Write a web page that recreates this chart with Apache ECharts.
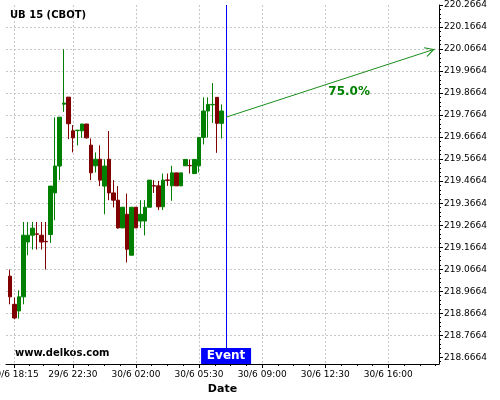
<!DOCTYPE html>
<html><head><meta charset="utf-8">
<script src="https://cdn.jsdelivr.net/npm/echarts@6/dist/echarts.min.js"></script>
<style>html,body{margin:0;padding:0;background:#fff}#c{width:500px;height:400px}</style>
</head><body><div id="c"></div>
<script>
// Candle values (index = 15-minute bar position)
const opens  = [219.035,218.907,218.877,218.941,219.190,219.221,219.227,219.221,219.193,219.224,
                219.413,219.535,219.816,219.848,219.695,219.696,219.695,219.726,219.630,219.536,
                219.566,219.444,219.566,219.413,219.380,219.254,219.316,219.130,219.348,219.285,
                219.285,219.348,219.446,219.445,219.350,219.472,219.445,219.504,219.445,219.536,
                219.538,219.501,219.536,219.665,219.785,219.813,219.847,219.729];
const closes = [218.941,218.845,218.941,219.221,219.221,219.253,219.225,219.190,219.191,219.444,
                219.535,219.757,219.821,219.727,219.663,219.698,219.726,219.663,219.504,219.566,
                219.471,219.535,219.413,219.380,219.254,219.348,219.157,219.348,219.254,219.316,
                219.348,219.471,219.444,219.350,219.471,219.470,219.504,219.445,219.504,219.565,
                219.536,219.565,219.665,219.785,219.815,219.815,219.729,219.785];
const lows   = [218.907,218.839,218.842,218.907,219.130,219.156,219.156,219.156,219.065,219.186,
                219.289,219.471,219.781,219.657,219.597,219.629,219.663,219.660,219.471,219.506,
                219.444,219.316,219.380,219.347,219.251,219.254,219.097,219.130,219.254,219.254,
                219.220,219.348,219.413,219.335,219.335,219.445,219.377,219.445,219.445,219.536,
                219.501,219.501,219.506,219.633,219.665,219.731,219.595,219.660];
const highs  = [219.065,218.938,218.971,219.281,219.281,219.281,219.281,219.281,219.281,219.444,
                219.756,219.757,220.065,219.848,219.721,219.698,219.726,219.726,219.660,219.597,
                219.629,219.566,219.694,219.471,219.444,219.348,219.410,219.348,219.348,219.380,
                219.380,219.471,219.471,219.468,219.501,219.501,219.536,219.504,219.504,219.565,
                219.565,219.565,219.665,219.847,219.847,219.912,219.847,219.815];

const xTickIdx    = [1, 14, 28, 42, 56, 70, 84];
const xTickLabels = ['29/6 18:15','29/6 22:30','30/6 02:00','30/6 05:30','30/6 09:00','30/6 12:30','30/6 16:00'];
const yTickLabels = ['218.6664','218.7664','218.8664','218.9664','219.0664','219.1664','219.2664','219.3664',
                     '219.4664','219.5664','219.6664','219.7664','219.8664','219.9664','220.0664','220.1664','220.2664'];

const eventIdx = 48;
const eventLabel = 'Event';
const forecastStart = [48, 219.757];
const forecastEnd   = [94.3, 220.066];
const forecastLabel = '75.0%';
const forecastLabelAt = [75.3, 219.874];

const X_MIN = -0.84, X_MAX = 95.25, Y_MIN = 218.636, Y_MAX = 220.2664;

const yTicks = yTickLabels.map(Number);
const yMinor = [];
for (let k = -1; k < yTicks.length; k++) {
  const base = k < 0 ? yTicks[0] - 0.1 : yTicks[k];
  for (let j = 1; j < 5; j++) yMinor.push(+(base + j * 0.02).toFixed(4));
}
const xExt = xTickIdx.concat([xTickIdx[xTickIdx.length - 1] + 14]);
const xMinor = [];
for (let i = 0; i < xExt.length - 1; i++) {
  for (let j = 1; j < 4; j++) xMinor.push(xExt[i] + (xExt[i + 1] - xExt[i]) * j / 4);
}

const FONT = 'DejaVu Sans';
const chart = echarts.init(document.getElementById('c'), null, {renderer: 'canvas'});
chart.setOption({
  animation: false,
  backgroundColor: '#fff',
  textStyle: {fontFamily: FONT},
  title: {text: 'UB 15 (CBOT)', left: 5, top: 5,
          textStyle: {fontSize: 10, fontWeight: 'bold', color: '#000', fontFamily: FONT}},
  grid: {left: 6, right: 61, top: 5, bottom: 36, containLabel: false, outerBoundsMode: 'none'},
  xAxis: [{
    type: 'value', min: X_MIN, max: X_MAX, position: 'bottom',
    name: 'Date', nameLocation: 'middle', nameGap: 19,
    nameTextStyle: {fontSize: 11, fontWeight: 'bold', color: '#000', fontFamily: FONT},
    axisLine: {show: true, onZero: false, lineStyle: {color: '#000', width: 1}},
    axisTick: {show: true, customValues: xTickIdx, length: 4, lineStyle: {color: '#000'}},
    axisLabel: {customValues: xTickIdx, fontSize: 9, color: '#000', margin: 6, fontFamily: FONT,
                formatter: v => { const k = xTickIdx.indexOf(Math.round(v)); return k >= 0 ? xTickLabels[k] : ''; }},
    splitLine: {show: true, lineStyle: {color: '#c8c8c8', type: [2, 2], width: 1}}
  }, {
    type: 'value', min: X_MIN, max: X_MAX, position: 'bottom',
    axisLine: {show: false, onZero: false},
    axisTick: {show: true, customValues: xMinor, length: 2, lineStyle: {color: '#000'}},
    axisLabel: {show: false}, splitLine: {show: false}
  }],
  yAxis: [{
    type: 'value', position: 'right', min: Y_MIN, max: Y_MAX, scale: true,
    axisLine: {show: true, onZero: false, lineStyle: {color: '#000', width: 1}},
    axisTick: {show: true, customValues: yTicks, length: 4, lineStyle: {color: '#000'}},
    axisLabel: {customValues: yTicks, fontSize: 9, color: '#000', margin: 5, fontFamily: FONT,
                formatter: v => v.toFixed(4)},
    splitLine: {show: true, showMaxLine: false, showMinLine: false,
                lineStyle: {color: '#c8c8c8', type: [2, 2], width: 1}}
  }, {
    type: 'value', position: 'right', min: Y_MIN, max: Y_MAX, scale: true,
    axisLine: {show: false, onZero: false},
    axisTick: {show: true, customValues: yMinor, length: 2, lineStyle: {color: '#000'}},
    axisLabel: {show: false}, splitLine: {show: false}
  }],
  graphic: [{
    type: 'text', left: 15, top: 348, silent: true,
    style: {text: 'www.delkos.com', font: 'bold 10px "DejaVu Sans"', fill: '#000'}
  }],
  series: [{
    type: 'candlestick', xAxisIndex: 0, yAxisIndex: 0,
    data: opens.map((o, i) => [i, o, closes[i], lows[i], highs[i]]),
    encode: {x: 0, y: [1, 2, 3, 4]},
    barWidth: 4,
    itemStyle: {color: '#008000', color0: '#800000', borderColor: '#008000', borderColor0: '#800000', borderWidth: 1},
    markLine: {
      silent: true, animation: false, symbol: ['none', 'none'], label: {show: false},
      data: [
        [{coord: [eventIdx, Y_MIN], lineStyle: {color: '#0000ff', width: 1, type: 'solid'}},
         {coord: [eventIdx, Y_MAX]}],
        [{coord: forecastStart, symbol: 'none', lineStyle: {color: '#1a8c1a', width: 1, type: 'solid'}},
         {coord: forecastEnd, symbol: 'path://M0,0 L6,10 L5,10.8 L0,2.4 L-5,10.8 L-6,10 Z',
          symbolSize: [10, 10], symbolOffset: [0, 5]}]
      ]
    },
    markPoint: {
      silent: true, animation: false,
      data: [
        {coord: [eventIdx, Y_MIN], symbol: 'rect', symbolSize: [50, 16], symbolOffset: [0, -8],
         itemStyle: {color: '#0000ff'},
         label: {show: true, position: 'inside', formatter: eventLabel, color: '#fff', fontSize: 12, fontWeight: 'bold', fontFamily: FONT}},
        {coord: forecastLabelAt, symbol: 'rect', symbolSize: 1, itemStyle: {color: 'rgba(0,0,0,0)'},
         label: {show: true, position: 'inside', formatter: forecastLabel, color: '#008000', fontSize: 12, fontWeight: 'bold', fontFamily: FONT}}
      ]
    }
  }]
});
</script></body></html>
